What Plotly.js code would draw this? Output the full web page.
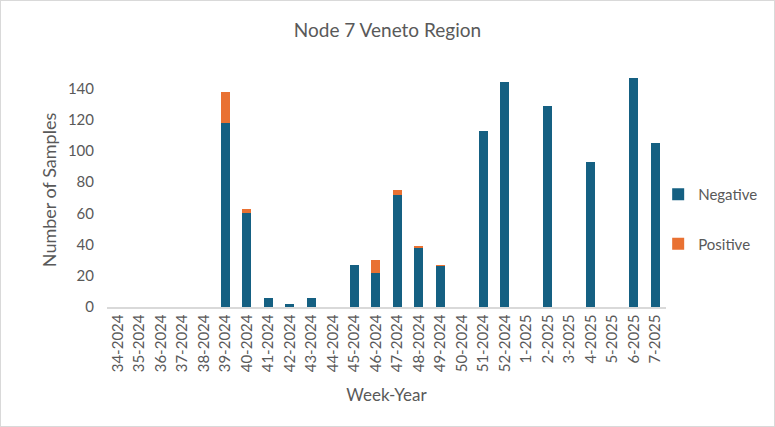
<!DOCTYPE html>
<html>
<head>
<meta charset="utf-8">
<script src="https://cdn.plot.ly/plotly-3.0.1.min.js"></script>
<style>
html,body{margin:0;padding:0;background:#fff;}
#chart{width:775px;height:427px;box-sizing:border-box;border:1px solid #d9d9d9;}
</style>
</head>
<body>
<div id="chart"></div>
<script>
const weeks = ["34-2024","35-2024","36-2024","37-2024","38-2024","39-2024","40-2024","41-2024","42-2024","43-2024","44-2024","45-2024","46-2024","47-2024","48-2024","49-2024","50-2024","51-2024","52-2024","1-2025","2-2025","3-2025","4-2025","5-2025","6-2025","7-2025"];
const negative = [0,0,0,0,0,118,60,6,2,6,0,27,22,72,38,26,0,113,144,0,129,0,93,0,147,105];
const positive = [0,0,0,0,0,20,3,0,0,0,0,0,8,3,1,1,0,0,0,0,0,0,0,0,0,0];

const fontFam = "Lato, 'Open Sans', sans-serif";
const grey = "#595959";

const traces = [
  {type:"bar", name:"Negative", legendgroup:"neg", x:weeks, y:negative, marker:{color:"#156082"}},
  {type:"bar", name:"Positive", legendgroup:"pos", x:weeks, y:positive, marker:{color:"#E97132"}}
];

const layout = {
  width:773, height:425,
  margin:{l:106, r:108, t:72, b:119, autoexpand:false},
  paper_bgcolor:"#fff", plot_bgcolor:"#fff",
  barmode:"stack", bargap:0.57,
  font:{family:fontFam, color:grey, size:15},
  title:{text:"Node 7 Veneto Region", x:0.5, xanchor:"center", y:0.93, yanchor:"middle", font:{size:19, color:grey, family:fontFam}},
  xaxis:{type:"category", tickangle:-90, showgrid:false, showline:true, linecolor:"#d9d9d9", linewidth:1.5, ticks:"", tickfont:{size:15, color:grey},
         automargin:false,
         title:{text:"Week-Year", font:{size:17, color:grey}, standoff:18}},
  yaxis:{range:[0,150], tickvals:[0,20,40,60,80,100,120,140], showgrid:false, zeroline:false, showline:false, ticks:"", tickfont:{size:15, color:grey},
         ticklabelstandoff:12, automargin:false,
         title:{text:"Number of Samples", font:{size:18, color:grey}, standoff:6}},
  legend:{x:0.986, xanchor:"left", y:0.376, yanchor:"middle", traceorder:"grouped", tracegroupgap:27, bgcolor:"rgba(0,0,0,0)", font:{size:15, color:grey}, itemwidth:30},
  showlegend:true
};

Plotly.newPlot("chart", traces, layout, {displayModeBar:false, staticPlot:true});
</script>
</body>
</html>
